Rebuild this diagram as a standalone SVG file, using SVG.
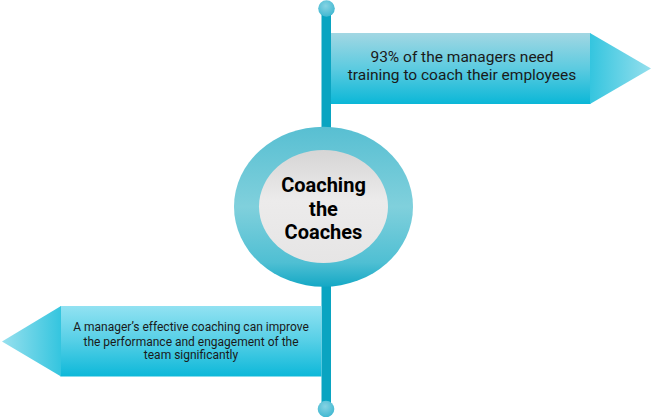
<svg xmlns="http://www.w3.org/2000/svg" width="652" height="417" viewBox="0 0 652 417">
<defs>
<linearGradient id="rectTop" x1="0" y1="0" x2="0" y2="1">
<stop offset="0" stop-color="#a2d7e3"/><stop offset="0.5" stop-color="#5ccbe0"/><stop offset="1" stop-color="#0bb7d7"/>
</linearGradient>
<linearGradient id="rectBot" x1="0" y1="0" x2="0" y2="1">
<stop offset="0" stop-color="#92e2f2"/><stop offset="0.5" stop-color="#55cfe6"/><stop offset="1" stop-color="#0db8d9"/>
</linearGradient>
<linearGradient id="triR" x1="0" y1="0" x2="1" y2="0">
<stop offset="0" stop-color="#34c5df"/><stop offset="1" stop-color="#95dfed"/>
</linearGradient>
<linearGradient id="triL" x1="1" y1="0" x2="0" y2="0">
<stop offset="0" stop-color="#34c5df"/><stop offset="1" stop-color="#98e0ee"/>
</linearGradient>
<linearGradient id="ring" x1="0" y1="0" x2="0" y2="1">
<stop offset="0" stop-color="#58bfd2"/><stop offset="0.5" stop-color="#80d0dc"/><stop offset="0.85" stop-color="#4fbfd3"/><stop offset="1" stop-color="#14a8c5"/>
</linearGradient>
<linearGradient id="core" x1="0" y1="0" x2="0" y2="1">
<stop offset="0" stop-color="#d6d5d5"/><stop offset="0.45" stop-color="#ecebeb"/><stop offset="1" stop-color="#e6e5e5"/>
</linearGradient>
<radialGradient id="ball" cx="0.45" cy="0.35" r="0.7">
<stop offset="0" stop-color="#86d3e3"/><stop offset="1" stop-color="#3cb6d0"/>
</radialGradient>
</defs>
<style>
.pole{fill:#0aa4c1}
.txt{font-family:Roboto,"Liberation Sans",sans-serif;fill:#1a1a1a;text-anchor:middle}
.title{font-family:Roboto,"Liberation Sans",sans-serif;font-weight:bold;fill:#000;text-anchor:middle;font-size:20px}
</style>
<g id="connectors">
<rect class="pole" x="321.5" y="8" width="9.5" height="401"/>
<circle cx="326.5" cy="8.5" r="8.3" fill="url(#ball)"/>
<circle cx="326" cy="409" r="8.3" fill="url(#ball)"/>
</g>
<g id="banner-top">
<rect x="331" y="33" width="259.5" height="71" fill="url(#rectTop)"/>
<polygon points="590,33 651,68.5 590,104" fill="url(#triR)"/>
<text class="txt" font-size="15.5" x="462" y="62">93% of the managers need</text>
<text class="txt" font-size="15.5" x="462" y="80">training to coach their employees</text>
</g>
<g id="banner-bottom">
<rect x="60.5" y="306" width="261" height="70.5" fill="url(#rectBot)"/>
<polygon points="61,306 2,341.5 61,376.5" fill="url(#triL)"/>
<text class="txt" font-size="12" x="191" y="331">A manager’s effective coaching can improve</text>
<text class="txt" font-size="12" x="191" y="345.5">the performance and engagement of the</text>
<text class="txt" font-size="12" x="191" y="359">team significantly</text>
</g>
<g id="center">
<ellipse cx="323.5" cy="206.7" rx="89.5" ry="80" fill="url(#ring)"/>
<ellipse cx="323.5" cy="206.5" rx="64.5" ry="56.5" fill="url(#core)"/>
<text class="title" x="323.5" y="192">Coaching</text>
<text class="title" x="323.5" y="216">the</text>
<text class="title" x="323.5" y="239">Coaches</text>
</g>
</svg>
